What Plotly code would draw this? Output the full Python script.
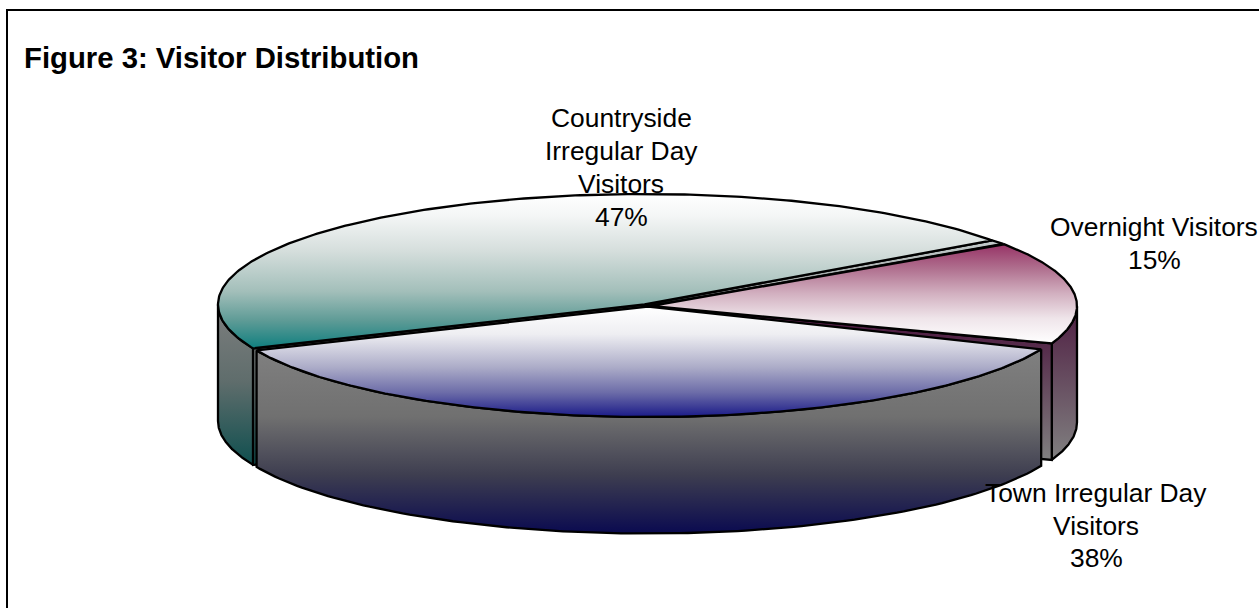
import numpy as np
import plotly.graph_objects as go

# ---- data ----
labels = ["Overnight Visitors", "Town Irregular Day Visitors", "Countryside Irregular Day Visitors"]
values = [15, 38, 47]
label_lines = [["Overnight Visitors"], ["Town Irregular Day", "Visitors"], ["Countryside", "Irregular Day", "Visitors"]]
title_text = "Figure 3: Visitor Distribution"

# ---- geometry / style (pixel-scaled axes) ----
W, H = 1259, 608
A, B, DEPTH = 426.5, 110.5, 116.5
START = 55.8
centers = [(650.5, 306.0), (648.0, 306.5), (644.5, 304.5)]
insets = [(0.0, 0.0), (3.0, 0.0), (0.0, 1.2)]
top_grad = [
    [[0, "#963265"], [.25, "#B0708F"], [.5, "#D2B0C0"], [.75, "#EFE5EA"], [1, "#FFFFFF"]],
    [[0, "#FFFFFF"], [.25, "#EEEEF2"], [.55, "#ACACC8"], [.78, "#6C6CA8"], [1, "#1A1A88"]],
    [[0, "#FFFFFF"], [.14, "#F4F6F6"], [.37, "#D5DEDC"], [.63, "#A3BFBA"], [.82, "#5E9B96"], [1, "#0F7F7F"]],
]
wall_grad = [
    [[0, "#4D1A40"], [1, "#808080"]],
    [[0, "#808080"], [.366, "#707070"], [.68, "#3E3E50"], [1, "#0A0A50"]],
    [[0, "#808080"], [.5, "#5F6D6C"], [1, "#0F4F4F"]],
]
STRIP_GRAD = [[0, "#C4CCCC"], [1, "#8C9090"]]
LINE = dict(color="black", width=2.3)
label_pos = [(1154, [227]), (1096, [493, 526]), (621, [118, 151, 184])]
pct_y = [260, 558, 217]
pct_x = [1154, 1096, 621]
LABEL_SIZE = 26.4
TITLE_SIZE = 29.3
FONT = "Liberation Sans"

fig = go.Figure()


def pt(c, th):
    th = np.radians(th)
    return c[0] + A * np.sin(th), c[1] - B * np.cos(th)


def poly(x, y, g, start, stop):
    fig.add_trace(go.Scatter(
        x=x, y=y, mode="lines", fill="toself", line=LINE, hoverinfo="skip", showlegend=False,
        fillgradient=dict(type="vertical", start=start, stop=stop, colorscale=g)))


spans = []
a0 = START
for v in values:
    a1 = a0 + v * 3.6
    spans.append((a0, a1))
    a0 = a1

# walls and cut faces first, top faces after
for i in [2, 0, 1]:
    c = centers[i]
    s, e = spans[i][0] + insets[i][0], spans[i][1] - insets[i][1]
    ws, we = max(s, 90), min(e, 270)
    th = np.linspace(ws, we, 120)
    x, y = pt(c, th)
    ylo = c[1] - 6
    yhi = c[1] + B + DEPTH if i == 1 else float(y.max()) + DEPTH
    poly(np.r_[x, x[::-1], x[0]], np.r_[y, y[::-1] + DEPTH, y[0]], wall_grad[i],
         ylo if i != 1 else float(y.min()), yhi)
    if i == 2:   # cut face at the start of the slice
        cx, cy = pt(c, s)
    elif i == 0:  # cut face at the end of the slice
        cx, cy = pt(c, e)
    else:
        cx = None
    if cx is not None:
        px = [cx, c[0], c[0], cx, cx]
        py = [cy, c[1], c[1] + DEPTH, cy + DEPTH, cy]
        poly(px, py, wall_grad[i], float(cy) - 20, float(cy) + DEPTH)

# thin strip seen between the far edges of the Countryside and Overnight slices
c2, c0 = centers[2], centers[0]
ex, ey = pt(c2, spans[2][1] - insets[2][1])
nx, ny = pt(c0, spans[0][0] + insets[0][0])
poly([c2[0], ex, nx, c0[0], c2[0]], [c2[1], ey, ny, c0[1], c2[1]], STRIP_GRAD, float(ey), float(c0[1]))

for i in [2, 0, 1]:
    c = centers[i]
    s, e = spans[i][0] + insets[i][0], spans[i][1] - insets[i][1]
    th = np.linspace(s, e, 240)
    x, y = pt(c, th)
    ys = np.r_[c[1], y, c[1]]
    if i == 0:
        st, sp = float(y.min()), float(y.max())
    elif i == 1:
        st, sp = c[1], float(y.max())
    else:
        st, sp = float(y.min()), float(y[0])
    poly(np.r_[c[0], x, c[0]], ys, top_grad[i], st, sp)

anns = []
for i, lines in enumerate(label_lines):
    lx, ly = label_pos[i]
    for t, yy in zip(lines, ly):
        anns.append(dict(x=lx, y=yy, text=t, showarrow=False, xanchor="center", yanchor="middle",
                         font=dict(family=FONT, size=LABEL_SIZE, color="black")))
    anns.append(dict(x=pct_x[i], y=pct_y[i], text=f"{values[i]}%", showarrow=False, xanchor="center",
                     yanchor="middle", font=dict(family=FONT, size=LABEL_SIZE, color="black")))
anns.append(dict(x=22, y=57, text=f"<b>{title_text}</b>", showarrow=False, xanchor="left", yanchor="middle",
                 font=dict(family=FONT, size=TITLE_SIZE, color="black")))

fig.update_layout(
    width=W, height=H, margin=dict(l=0, r=0, t=0, b=0),
    paper_bgcolor="white", plot_bgcolor="white", showlegend=False,
    xaxis=dict(range=[0, W], visible=False, fixedrange=True),
    yaxis=dict(range=[H, 0], visible=False, fixedrange=True),
    annotations=anns,
    shapes=[dict(type="rect", xref="x", yref="y", x0=7, y0=10, x1=1275, y1=625,
                 line=dict(color="black", width=2), layer="above")],
)
fig.write_html("out.html", config={"displayModeBar": False},
               post_script="document.body.style.margin='0';")
